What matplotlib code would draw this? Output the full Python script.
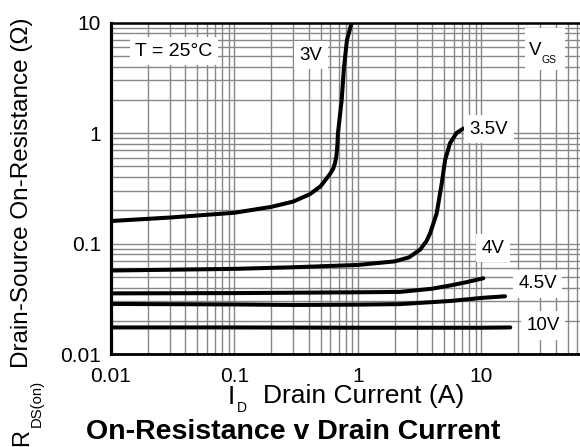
import matplotlib.pyplot as plt
from matplotlib.patches import Rectangle

plt.rcParams['font.family'] = ['Liberation Sans', 'DejaVu Sans']

# --- data ---
id_3v = [0.01, 0.03, 0.1, 0.2, 0.3, 0.41, 0.5, 0.6, 0.635, 0.655, 0.672, 0.685,
         0.692, 0.742, 0.775, 0.819, 0.894]
rds_3v = [0.16, 0.172, 0.19, 0.215, 0.24, 0.28, 0.33, 0.43, 0.48, 0.535, 0.62, 0.78,
          1.0, 2.0, 4.0, 7.0, 10.0]

id_35v = [0.01, 0.1, 0.3, 1, 2, 2.6, 3.2, 3.6, 3.85, 4.36, 4.79, 5.1, 5.59, 6.3, 7.16]
rds_35v = [0.057, 0.059, 0.061, 0.064, 0.069, 0.075, 0.088, 0.105, 0.123, 0.187, 0.35,
           0.57, 0.81, 1.0, 1.1]

id_4v = [0.01, 0.1, 1, 2.2, 4, 5.6, 7.6, 10.4]
rds_4v = [0.0354, 0.0356, 0.0362, 0.0365, 0.039, 0.0417, 0.0447, 0.0485]

id_45v = [0.01, 0.1, 0.3, 1, 2.2, 5.6, 10.4, 15.6]
rds_45v = [0.0284, 0.0281, 0.0278, 0.028, 0.0283, 0.0302, 0.0323, 0.0333]

id_10v = [0.01, 0.1, 1, 10, 17.2]
rds_10v = [0.0174, 0.0174, 0.0173, 0.0173, 0.0174]

tick_vals = [0.01, 0.1, 1, 10]
tick_labels = ['0.01', '0.1', '1', '10']

W, H = 580, 447


def fp(x, y):
    # pixel position -> figure fraction
    return x / W, 1 - y / H


fig = plt.figure(figsize=(W / 100, H / 100), dpi=100)
ax = fig.add_axes([110.7 / W, 1 - 354 / H, (W - 110.7) / W, (354 - 22.7) / H])
ax.set_xscale('log')
ax.set_yscale('log')
ax.set_xlim(0.01, 63.1)
ax.set_ylim(0.01, 10)

ax.grid(which='both', color='#878787', lw=1.0)
ax.set_axisbelow(True)

for xs, ys in [(id_3v, rds_3v), (id_35v, rds_35v), (id_4v, rds_4v),
               (id_45v, rds_45v), (id_10v, rds_10v)]:
    ax.plot(xs, ys, color='black', lw=2.9, solid_capstyle='round',
            solid_joinstyle='round', zorder=3)

ax.set_xticks(tick_vals)
ax.set_xticklabels(tick_labels)
ax.set_yticks(tick_vals)
ax.set_yticklabels(tick_labels)
ax.tick_params(which='both', length=0, labelsize=15)
ax.tick_params(axis='x', pad=9)
ax.tick_params(axis='y', pad=7)

ax.spines['right'].set_visible(False)
ax.spines['left'].set_linewidth(2.3)
ax.spines['bottom'].set_linewidth(2.0)
ax.spines['top'].set_linewidth(1.8)

# --- labels in the plot ---
box = dict(boxstyle='square,pad=0.3', fc='white', ec='none')
lab = [('T = 25°C', 174, 51, 14), ('3V', 311, 55, 13.5), ('3.5V', 489, 129, 13.5),
       ('4V', 493, 248, 13.5), ('4.5V', 537.5, 284, 13.5), ('10V', 543, 325.5, 13.5)]
for s, x, y, fs in lab:
    fig.text(*fp(x, y), s, fontsize=fs, ha='center', va='center', bbox=box, zorder=5)

fig.patches.append(Rectangle(fp(525, 70), 40 / W, 42 / H, transform=fig.transFigure,
                             fc='white', ec='none', zorder=4))
fig.text(*fp(529, 55), 'V', fontsize=13.5, ha='left', va='baseline', zorder=5)
fig.text(*fp(541, 63), 'GS', fontsize=7.5, ha='left', va='baseline', zorder=5)

# --- axis labels and title ---
fig.text(*fp(228, 404), 'I', fontsize=19, ha='left', va='baseline')
fig.text(*fp(237, 411.5), 'D', fontsize=10, ha='left', va='baseline')
fig.text(*fp(263, 403), 'Drain Current (A)', fontsize=19, ha='left', va='baseline')

fig.text(*fp(28, 446), 'R', fontsize=17, rotation=90, rotation_mode='anchor',
         ha='left', va='baseline')
fig.text(*fp(41, 427), 'DS(on)', fontsize=10.7, rotation=90, rotation_mode='anchor',
         ha='left', va='baseline')
fig.text(*fp(28, 368), 'Drain-Source On-Resistance (Ω)', fontsize=17.5, rotation=90,
         rotation_mode='anchor', ha='left', va='baseline')

fig.text(*fp(293.5, 439), 'On-Resistance v Drain Current', fontsize=20.5,
         fontweight='bold', ha='center', va='baseline')

fig.savefig('out.png', dpi=100)
